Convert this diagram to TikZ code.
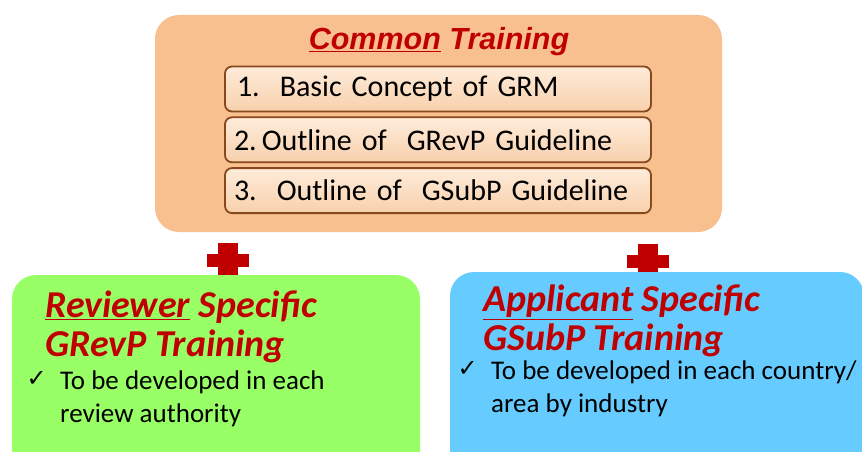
\documentclass[tikz,border=0pt]{standalone}
\usepackage{fontspec}
\setmainfont{Carlito}
\newfontfamily\titlefont{Liberation Sans}
\newfontfamily\checkfont{DejaVu Sans}
\usetikzlibrary{positioning}
\definecolor{peach}{RGB}{248,191,143}
\definecolor{itemlight}{RGB}{254,236,218}
\definecolor{itemdark}{RGB}{248,208,172}
\definecolor{itemedge}{RGB}{135,72,28}
\definecolor{darkred}{RGB}{192,0,0}
\definecolor{lime}{RGB}{153,255,102}
\definecolor{sky}{RGB}{102,204,255}
\tikzset{panel/.style={rounded corners=24pt, inner sep=0pt},
  itembox/.style={draw=itemedge, line width=1.8pt, rounded corners=7pt, top color=itemlight, bottom color=itemdark,
    minimum width=426pt, minimum height=45pt, text width=408pt, align=left, inner xsep=9pt, inner ysep=0pt,
    font=\fontsize{30}{34}\selectfont},
  heading/.style={darkred, anchor=north west, align=left, inner sep=0pt, font=\fontsize{38}{39}\bfseries\itshape\selectfont},
  bullet/.style={anchor=north west, align=left, inner sep=0pt, font=\fontsize{27}{32.5}\selectfont},
  tick/.style={anchor=north east, inner sep=0pt, font=\checkfont\fontsize{24}{28}\selectfont}}

\begin{document}
\begin{tikzpicture}[x=1pt,y=-1pt]
       \useasboundingbox (0,0) rectangle (862,452);
       % common part
       \node[panel, fill=peach, minimum width=567pt, minimum height=217pt] (common) at (438.5,123.5) {};
       \node[darkred, anchor=base, font=\titlefont\fontsize{30.5}{34}\bfseries\itshape\selectfont] (commontitle) at (439,50) {\underline{Common} Training};
       \node[itembox] (grm) at (438,89) {\hspace*{3pt}1.\ \ Basic Concept of GRM};
       \node[itembox, below=4pt of grm] (grevp) {2.\,Outline of\ \ GRevP Guideline};
       \node[itembox, below=4pt of grevp] (gsubp) {3.\ \ Outline of\ \ GSubP Guideline};
       % plus signs
       \foreach \px/\py in {228/260, 648/261}{
        \fill[darkred] (\px-10,\py-17) rectangle (\px+10,\py+17);
        \fill[darkred] (\px-21,\py-6.5) rectangle (\px+21,\py+6.5);
       }
       % reviewer part
       \node[panel, fill=lime, minimum width=408pt, minimum height=205pt] (reviewer) at (216,377.5) {};
       \node[heading] (revtitle) at (45,291) {\underline{Reviewer} Specific\\GRevP Training};
       \node[bullet] (revtext) at (60,371) {To be developed in each\\review authority};
       \node[tick, left=13pt of revtext.north west, anchor=north east] (revcheck) {✓};
       % applicant part
       \node[panel, fill=sky, minimum width=414pt, minimum height=208pt] (applicant) at (657,376) {};
       \node[heading] (apptitle) at (483,285) {\underline{Applicant} Specific\\GSubP Training};
       \node[bullet] (apptext) at (491,361) {To be developed in each country/\\area by industry};
       \node[tick, left=13pt of apptext.north west, anchor=north east] (appcheck) {✓};
      \end{tikzpicture}
\end{document}
